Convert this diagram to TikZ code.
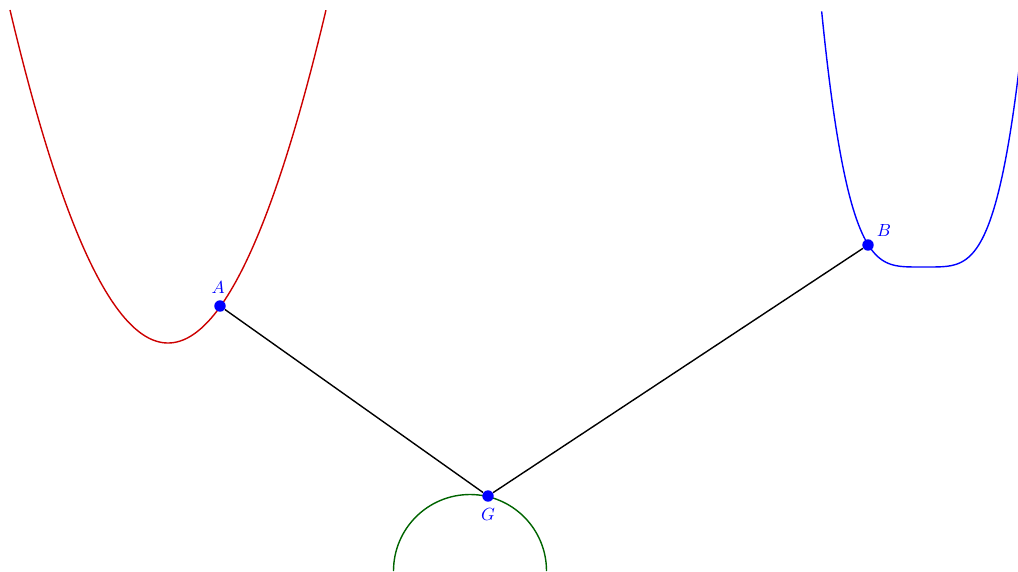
\documentclass[tikz,border=0pt]{standalone}
\usetikzlibrary{positioning}
\definecolor{curvered}{RGB}{204,0,0}
\definecolor{curvegreen}{RGB}{0,100,0}
\tikzset{
  point/.style={circle, fill=blue, inner sep=0pt, minimum size=6.5pt},
  ptlabel/.style={text=blue}
}
\begin{document}
\begin{tikzpicture}
	% Define parameters
	\def\ra{0.667}   % Red parabola factor
	\def\rx{3.36}    % Red vertex x
	\def\ry{4.56}    % Red vertex y
	\def\ba{0.297}   % Blue quartic factor
	\def\bx{18.47}   % Blue vertex x
	\def\by{6.08}    % Blue vertex y
	\def\gr{1.53}    % Green radius
	
	% Frame
	\useasboundingbox (0,0) rectangle (20.36,11.42);
	\clip (0,0) rectangle (20.36,11.42);
	
	% Red parabola
	\draw[thick, curvered, domain=0.2:6.52, samples=120] plot (\x, {\ry+\ra*(\x-\rx)*(\x-\rx)});
	
	% Blue quartic
	\draw[thick, blue, domain=16.433:20.5, samples=160] plot (\x, {\by+\ba*(\x-\bx)*(\x-\bx)*(\x-\bx)*(\x-\bx)});
	
	% Green half circle
	\draw[thick, curvegreen] (9.4+\gr,0) arc (0:180:\gr);
	
	% Points
	\node[point] (A) at (4.40,5.30) {};
	\node[point] (B) at (17.36,6.52) {};
	\node[point] (G) at (9.76,1.50) {};
	\node[ptlabel, above=0pt of A, xshift=-1pt] (lA) {$A$};
	\node[ptlabel, above right=-1pt and -1pt of B] (lB) {$B$};
	\node[ptlabel, below=0pt of G] (lG) {$G$};
	
	% Segments
	\draw[thick] (A) -- (G) -- (B);
	
\end{tikzpicture}
\end{document}
